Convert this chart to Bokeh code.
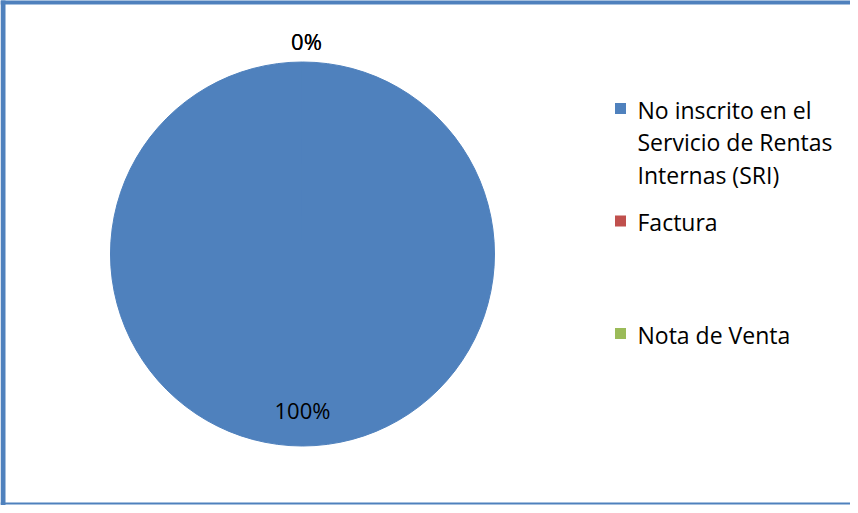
import math
from bokeh.plotting import figure
from bokeh.models import Range1d, ColumnDataSource
from bokeh.core.properties import value
from bokeh.embed import file_html
from bokeh.resources import INLINE

categories = ["No inscrito en el\nServicio de Rentas\nInternas (SRI)", "Factura", "Nota de Venta"]
values = [100, 0, 0]
pct_labels = ["100%", "0%", "0%"]
colors = ["#4F81BD", "#C0504D", "#9BBB59"]

W, H = 850, 505
FONT = "Open Sans"
p = figure(width=W, height=H, output_backend="svg", toolbar_location=None,
           x_range=Range1d(0, W), y_range=Range1d(0, H), min_border=0)
p.axis.visible = False
p.grid.visible = False
p.outline_line_color = None
p.background_fill_color = "white"
p.border_fill_color = "white"

def Y(ypage):
    return H - (ypage - 8)

# frame border
p.quad(left=[0], right=[W], top=[Y(7)], bottom=[Y(12)], color="#4F81BD", line_color=None)
p.quad(left=[0], right=[5], top=[Y(7)], bottom=[Y(513)], color="#4F81BD", line_color=None)
p.quad(left=[0], right=[W], top=[Y(510)], bottom=[Y(512)], color="#4F81BD", line_color=None)

cx, cy, R = 310 - 8, Y(261.5), 192
total = sum(values)
starts, ends, lx, ly = [], [], [], []
acc = 0.0
for v in values:
    a0 = math.pi / 2 - 2 * math.pi * acc / total
    acc += v
    a1 = math.pi / 2 - 2 * math.pi * acc / total
    starts.append(a0)
    ends.append(a1)
    mid = (a0 + a1) / 2
    frac = v / total
    r = 0.81 * R if frac > 0.05 else 1.11 * R
    lx.append(cx + r * math.cos(mid) + (0 if frac > 0.05 else 4))
    ly.append(cy + r * math.sin(mid))

nz = [i for i, v in enumerate(values) if v > 0]
src = ColumnDataSource(dict(
    s=[starts[i] for i in nz],
    e=[ends[i] + (1e-4 if abs(starts[i] - ends[i]) >= 2 * math.pi - 1e-9 else 0) for i in nz],
    c=[colors[i] for i in nz]))
p.wedge(x=cx, y=cy, radius=R, start_angle="s", end_angle="e", direction="clock",
        fill_color="c", line_color="c", line_width=1, source=src)

p.text(x=lx, y=ly, text=pct_labels, text_font=value(FONT), text_font_size="22px",
       text_align="center", text_baseline="middle", text_color="#000000")

# legend
leg_x = 628 - 8
leg_y0 = 117
step = 112.5
sq_y = [Y(leg_y0 + i * step - 1) for i in range(len(categories))]
p.rect(x=[leg_x] * len(categories), y=sq_y, width=11, height=11, fill_color=colors, line_color=None)
p.text(x=[645 - 8] * len(categories), y=[Y(leg_y0 + i * step - 16) for i in range(len(categories))],
       text=categories, text_font=value(FONT), text_font_size="23px", text_align="left",
       text_baseline="top", text_line_height=1.02, text_color="#000000")

open("out.html", "w").write(file_html(p, INLINE))
